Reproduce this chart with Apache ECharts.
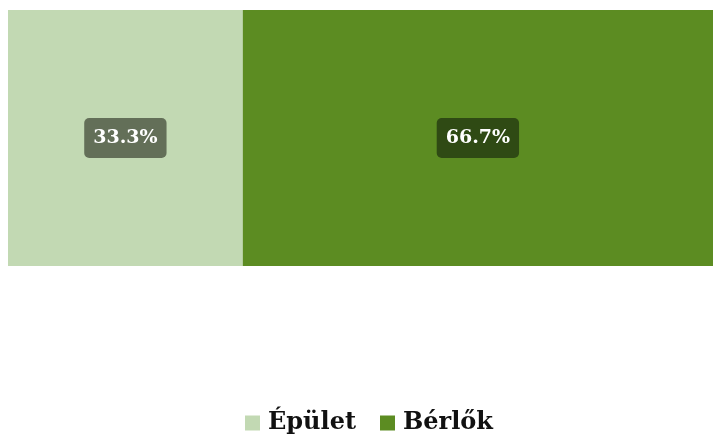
<!DOCTYPE html>
<html><head><meta charset="utf-8">
<script src="https://cdn.jsdelivr.net/npm/echarts@6/dist/echarts.min.js"></script>
<style>html,body{margin:0;padding:0;background:#fff}#c{width:713px;height:438px}</style>
</head><body><div id="c"></div>
<script>
const categories = ['Megoszlás'];
const seriesNames = ['Épület', 'Bérlők'];
const epuletValues = [33.3];
const berlokValues = [66.7];
const colors = ['#c2d9b3', '#5c8c22'];
const labelBgs = ['#636f58', '#2f4a14'];

const chart = echarts.init(document.getElementById('c'));
const fontFam = '"DejaVu Serif", "Liberation Serif", serif';
function mk(name, vals, i) {
  return {
    name: name, type: 'bar', stack: 'total', data: vals, barWidth: '100%',
    itemStyle: { color: colors[i] },
    label: {
      show: true, position: 'inside',
      formatter: p => p.value.toFixed(1) + '%',
      color: '#fff', fontFamily: fontFam, fontWeight: 'bold', fontSize: 19,
      backgroundColor: labelBgs[i], borderRadius: 5, padding: [11, 9, 10, 9]
    },
    emphasis: { disabled: true }
  };
}
chart.setOption({
  animation: false,
  grid: { left: 8, right: 0, top: 10, bottom: 172 },
  xAxis: { type: 'value', min: 0, max: 100, show: false },
  yAxis: { type: 'category', data: categories, show: false },
  legend: {
    bottom: -2, left: 240, itemWidth: 15, itemHeight: 15, itemGap: 24, icon: 'rect',
    textStyle: { fontFamily: fontFam, fontWeight: 'bold', fontSize: 24, color: '#111', padding: [0, 0, 0, 3] },
    data: seriesNames
  },
  series: [mk(seriesNames[0], epuletValues, 0), mk(seriesNames[1], berlokValues, 1)]
});
</script></body></html>
